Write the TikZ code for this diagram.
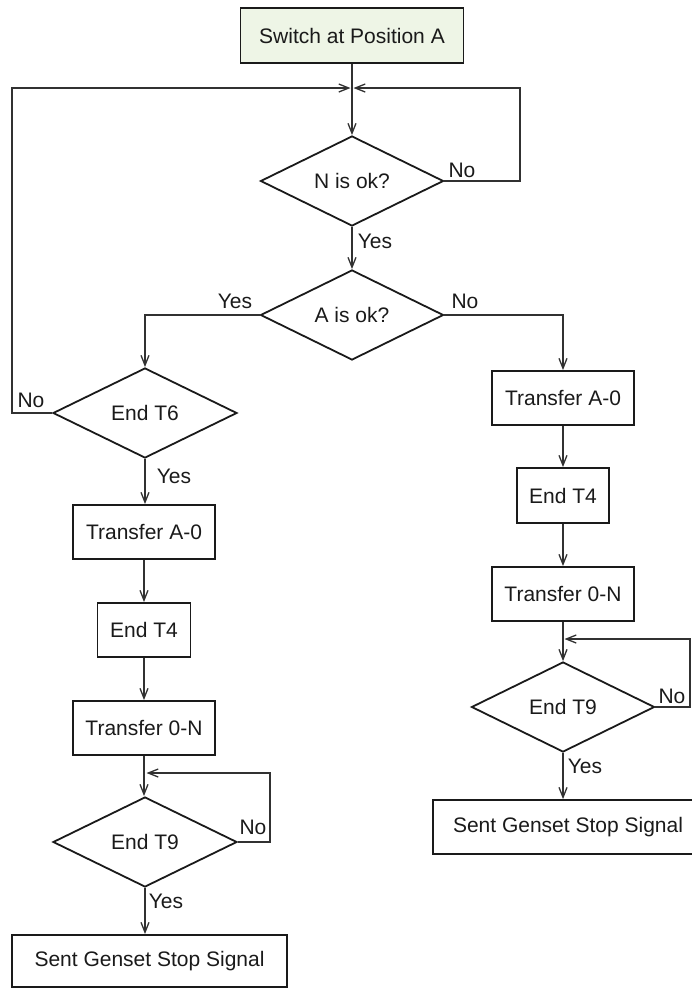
\documentclass[tikz,border=0pt]{standalone}
\usepackage{fontspec}
\setmainfont{Liberation Sans}
\usetikzlibrary{arrows.meta,shapes.geometric}
\definecolor{startfill}{HTML}{EEF5E6}
\definecolor{ink}{HTML}{1A1A1A}
\tikzset{
  txt/.style={font=\fontsize{21pt}{25pt}\selectfont, text=ink},
  boxnode/.style={txt, draw=ink, line width=1.8pt, rectangle, inner sep=0pt},
  decnode/.style={txt, draw=ink, line width=1.8pt, diamond, aspect=2, inner sep=0pt,
    minimum width=183pt, minimum height=90pt},
  lbl/.style={txt, inner sep=0pt, anchor=base},
  conn/.style={draw=ink!90, line width=1.3pt},
  arr/.style={conn, -{Straight Barb[length=10pt,width=8pt,line width=1.3pt]}},
}
\begin{document}
\begin{tikzpicture}[x=1pt,y=-1pt]
\useasboundingbox (0,0) rectangle (691,988);
% main spine
\node[boxnode, fill=startfill, minimum width=223pt, minimum height=55pt] (start) at (352,35.5) {Switch at Position A};
\coordinate (m) at (352,88);
\node[decnode] (N) at (352,181) {N is ok?};
\node[decnode] (A) at (352,315) {A is ok?};
% left branch
\node[decnode, minimum width=184pt] (T6) at (145,413) {End T6};
\node[boxnode, minimum width=142pt, minimum height=54pt] (TA0L) at (144,532) {Transfer A-0};
\node[boxnode, minimum width=93pt, minimum height=54pt] (T4L) at (144,630) {End T4};
\node[boxnode, minimum width=142pt, minimum height=54pt] (T0NL) at (144,728) {Transfer 0-N};
\node[decnode, minimum width=184pt] (T9L) at (145,842) {End T9};
\node[boxnode, minimum width=275pt, minimum height=52pt] (SGL) at (149.5,961) {Sent Genset Stop Signal};
% right branch
\node[boxnode, minimum width=142pt, minimum height=54pt] (TA0R) at (563,398) {Transfer A-0};
\node[boxnode, minimum width=92pt, minimum height=55pt] (T4R) at (563,495.5) {End T4};
\node[boxnode, minimum width=142pt, minimum height=54pt] (T0NR) at (563,594) {Transfer 0-N};
\node[decnode] (T9R) at (563,707) {End T9};
\node[boxnode, minimum width=270pt, minimum height=54pt] (SGR) at (568,827) {Sent Genset Stop Signal};
% helper coordinates
\coordinate (lc) at (12,88);
\coordinate (rc) at (520,88);
\coordinate (lLoopR) at (270,773);
\coordinate (lLoopM) at (145,773);
\coordinate (rLoopR) at (690,639);
\coordinate (rLoopM) at (563,639);
% connectors
\draw[arr] (start.south) -- (N.north);
\draw[arr, shorten >=1.5pt] (T6.west) -| (lc) -- (m);
\draw[arr, shorten >=1.5pt] (N.east) -| (rc) -- (m);
\draw[arr] (N.south) -- (A.north);
\draw[arr] (A.west) -| (T6.north);
\draw[arr] (A.east) -| (TA0R.north);
\draw[arr] (T6.south) -- (T6.south |- TA0L.north);
\draw[arr] (TA0L.south) -- (T4L.north);
\draw[arr] (T4L.south) -- (T0NL.north);
\draw[arr] (T0NL.south) -- (T0NL.south |- T9L.north);
\draw[arr, shorten >=1.5pt] (T9L.east) -| (lLoopR) -- (lLoopM);
\draw[arr] (T9L.south) -- (T9L.south |- SGL.north);
\draw[arr] (TA0R.south) -- (T4R.north);
\draw[arr] (T4R.south) -- (T0NR.north);
\draw[arr] (T0NR.south) -- (T9R.north);
\draw[arr, shorten >=1.5pt] (T9R.east) -| (rLoopR) -- (rLoopM);
\draw[arr] (T9R.south) -- (T9R.south |- SGR.north);
% labels
\node[lbl] (lN1) at (462,177) {No};
\node[lbl] (lN2) at (375,248) {Yes};
\node[lbl] (lA1) at (235,308) {Yes};
\node[lbl] (lA2) at (465,308) {No};
\node[lbl] (lT6a) at (31,407) {No};
\node[lbl] (lT6b) at (174,483) {Yes};
\node[lbl] (lT9La) at (253,834) {No};
\node[lbl] (lT9Lb) at (166,908) {Yes};
\node[lbl] (lT9Ra) at (672,703) {No};
\node[lbl] (lT9Rb) at (585,773) {Yes};
\end{tikzpicture}
\end{document}
